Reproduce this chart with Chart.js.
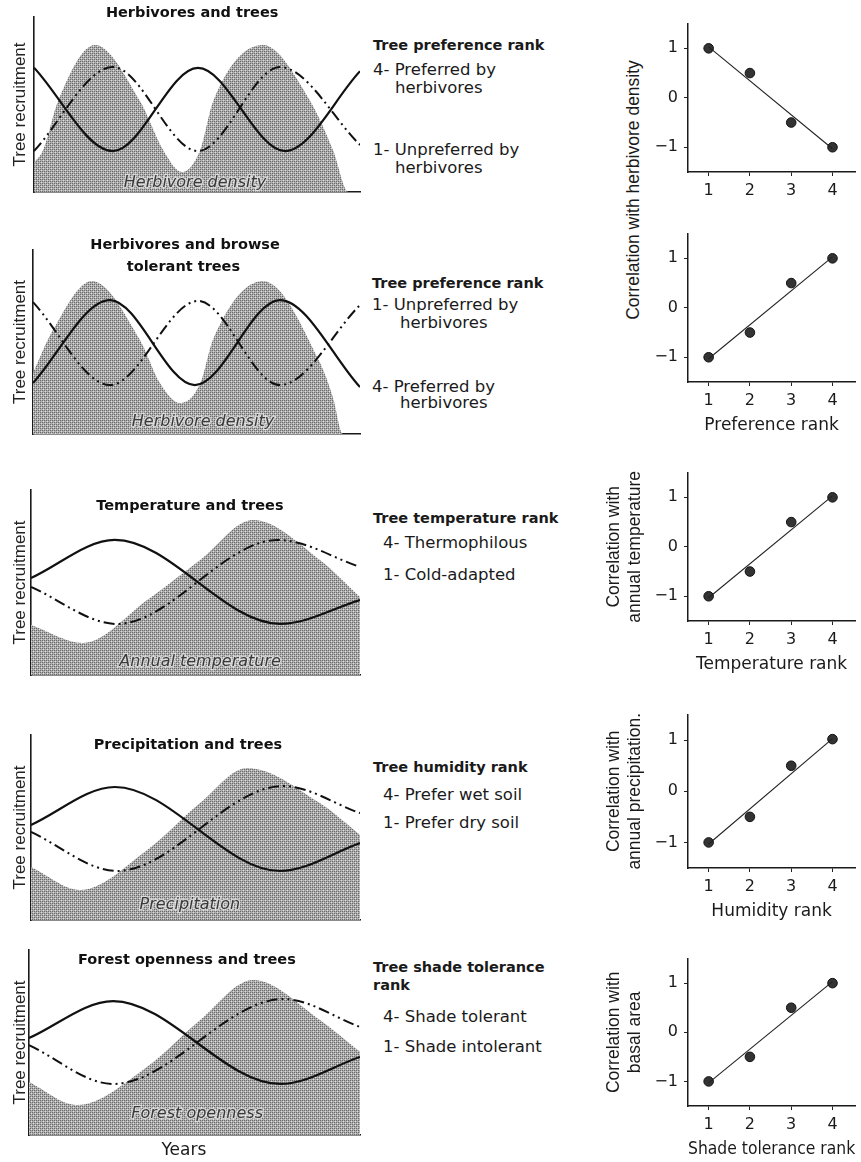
<!DOCTYPE html>
<html>
<head>
<meta charset="utf-8">
<script src="https://cdn.jsdelivr.net/npm/chart.js@4.4.1/dist/chart.umd.min.js"></script>
<style>
    body { margin: 0; background: #fff; }
    #fig { position: relative; width: 861px; height: 1162px; overflow: hidden; font-family: 'DejaVu Sans', sans-serif; color: #1a1a1a; }
    #fig canvas { position: absolute; }
    .t { position: absolute; white-space: nowrap; font-size: 16.5px; line-height: 20px; }
    .h { font-weight: bold; font-size: 14.5px; }
    .v { position: absolute; width: 300px; line-height: 20px; text-align: center; font-family: 'Liberation Sans', Arial, sans-serif; font-size: 17.5px; transform: rotate(-90deg); }
</style>
</head>
<body>
<div id="fig">
    <div class="t h" style="left:373px;top:35px">Tree preference rank</div>
    <div class="t" style="left:373px;top:60px">4- Preferred by</div>
    <div class="t" style="left:395px;top:78px">herbivores</div>
    <div class="t" style="left:373px;top:140px">1- Unpreferred by</div>
    <div class="t" style="left:395px;top:158px">herbivores</div>

    <div class="t h" style="left:372px;top:273px">Tree preference rank</div>
    <div class="t" style="left:372px;top:295px">1- Unpreferred by</div>
    <div class="t" style="left:400px;top:313px">herbivores</div>
    <div class="t" style="left:372px;top:377px">4- Preferred by</div>
    <div class="t" style="left:400px;top:393px">herbivores</div>

    <div class="t h" style="left:373px;top:508px">Tree temperature rank</div>
    <div class="t" style="left:383px;top:533px">4- Thermophilous</div>
    <div class="t" style="left:383px;top:565px">1- Cold-adapted</div>

    <div class="t h" style="left:373px;top:757px">Tree humidity rank</div>
    <div class="t" style="left:383px;top:785px">4- Prefer wet soil</div>
    <div class="t" style="left:383px;top:813px">1- Prefer dry soil</div>

    <div class="t h" style="left:373px;top:957px">Tree shade tolerance</div>
    <div class="t h" style="left:373px;top:975px">rank</div>
    <div class="t" style="left:383px;top:1007px">4- Shade tolerant</div>
    <div class="t" style="left:383px;top:1037px">1- Shade intolerant</div>

    <div class="v" style="left:483px;top:180px">Correlation with herbivore density</div>
</div>
<script>
// ---- Left panels: time (0-100) vs relative value (0-100) ----
// Herbivores and trees
const gray1X = [0, 2.8, 7.4, 18.7, 32.5, 39.6, 45.4, 51, 55, 70.2, 84.7, 91.7, 96.5, 100];
const gray1Y = [16.6, 24, 52, 84, 52, 24, 11.4, 24, 52, 84, 52, 24, 0, 0];
const solid1X = [0, 24.2, 50.3, 77, 100];
const solid1Y = [71, 23.4, 70.9, 23.4, 69];
const dash1X = [0, 24.2, 50.3, 75.5, 100];
const dash1Y = [23.4, 71.4, 23.4, 71.4, 26.9];

// Herbivores and browse tolerant trees
const gray2X = [0, 6.1, 18.0, 32.7, 38.8, 45, 51.2, 55, 70.3, 87.8, 91.7, 94.8, 100];
const gray2Y = [33.2, 56.5, 83.2, 51.1, 27.7, 16.8, 27.7, 51.1, 83.2, 38.6, 20, 0, 0];
const solid2X = [0, 23.5, 49.5, 75.5, 100];
const solid2Y = [27.7, 72.8, 26.6, 72.8, 25.5];
const dash2X = [0, 23.5, 50.5, 75.5, 100];
const dash2Y = [71.7, 26.6, 72.3, 26.6, 70.1];

// Temperature and trees
const gray3X = [0, 15.8, 35.3, 51.4, 67.5, 87.8, 100];
const gray3Y = [27, 17.3, 40.5, 62.2, 83.8, 62.2, 42.2];
const solid3X = [0, 25.5, 75.7, 100];
const solid3Y = [52.4, 73.0, 27.6, 40.5];
const dash3X = [0, 26.1, 75.1, 100];
const dash3Y = [47.6, 27.6, 73.0, 58.4];

// Precipitation and trees
const gray4X = [0, 14.9, 35.3, 51.4, 65.7, 87.8, 100];
const gray4Y = [28.6, 16.2, 37.8, 63.2, 82.2, 63.2, 46];
const solid4X = [0, 25.5, 75.7, 100];
const solid4Y = [51.4, 71.9, 26.5, 41.6];
const dash4X = [0, 26.1, 76.6, 100];
const dash4Y = [47.6, 26.5, 72.4, 57.8];

// Forest openness and trees
const gray5X = [0, 14.5, 35.6, 51.7, 67.7, 87.9, 100];
const gray5Y = [28.6, 16.2, 36.8, 62.2, 83.8, 62.2, 45];
const solid5X = [0, 25.4, 75.9, 100];
const solid5Y = [52.4, 72.4, 27.6, 42.2];
const dash5X = [0, 25.4, 76.9, 100];
const dash5Y = [48.6, 27.6, 73.5, 58.4];

// ---- Right panels: correlation by rank ----
const ranks = [1, 2, 3, 4];
const corrHerbivore = [1, 0.5, -0.5, -1];
const corrPreference = [-1, -0.5, 0.5, 1];
const corrTemperature = [-1, -0.5, 0.5, 1];
const corrHumidity = [-1, -0.5, 0.5, 1.02];
const corrShade = [-1, -0.5, 0.5, 1];
const fitX = [1, 4];
const fitHerbivore = [1.03, -1.03];
const fitPositive = [-1.03, 1.03];

const fig = document.getElementById('fig');
const FONT_H = 'DejaVu Sans';
const FONT_V = 'Liberation Sans';

function pts(xs, ys) {
    return xs.map((x, i) => ({ x: x, y: ys[i] }));
}

// halftone tile used for the shaded driver area
const tile = document.createElement('canvas');
tile.width = 4; tile.height = 4;
(function () {
    const g = tile.getContext('2d');
    g.fillStyle = '#aeaeae'; g.fillRect(0, 0, 4, 4);
    g.fillStyle = '#6a6a6a';
    g.fillRect(0, 0, 1, 1); g.fillRect(2, 0, 1, 1); g.fillRect(0, 2, 1, 1); g.fillRect(2, 2, 1, 1);
    g.fillStyle = '#dedede';
    g.fillRect(1, 3, 1, 1); g.fillRect(3, 1, 1, 1);
})();

function addCanvas(left, top, w, h) {
    const c = document.createElement('canvas');
    c.width = w; c.height = h;
    c.style.left = left + 'px'; c.style.top = top + 'px';
    c.style.width = w + 'px'; c.style.height = h + 'px';
    fig.appendChild(c);
    return c.getContext('2d');
}

// text drawn at value positions inside a panel
const panelText = {
    id: 'panelText',
    afterDatasetsDraw(chart, args, opts) {
        const ctx = chart.ctx;
        const sx = chart.scales.x, sy = chart.scales.y;
        (opts.items || []).forEach(function (it) {
            ctx.save();
            ctx.font = it.font;
            ctx.textAlign = 'center';
            ctx.textBaseline = 'middle';
            const px = sx.getPixelForValue(it.x), py = sy.getPixelForValue(it.y);
            if (it.halo) {
                ctx.strokeStyle = 'rgba(235,235,235,0.7)';
                ctx.lineWidth = 2.5;
                ctx.strokeText(it.text, px, py);
            }
            ctx.fillStyle = it.color || '#111';
            ctx.fillText(it.text, px, py);
            ctx.restore();
        });
    }
};

function renderDriverPanel(box, grayX, grayY, solidX, solidY, dashX, dashY, items) {
    const padTop = 22, padLeft = 6, right = 360, canvasW = 372;
    const bottomH = box.bottomH || 4;
    const h = padTop + (box.bottom - box.top) + bottomH;
    const ctx = addCanvas(0, box.top - padTop, canvasW, h);
    new Chart(ctx, {
        type: 'line',
        data: {
            datasets: [
                {
                    data: pts(solidX, solidY),
                    borderColor: '#111', borderWidth: 2.2,
                    pointRadius: 0, fill: false,
                    cubicInterpolationMode: 'monotone', order: 1
                },
                {
                    data: pts(dashX, dashY),
                    borderColor: '#111', borderWidth: 2,
                    borderDash: [11, 4, 2, 4, 2, 4],
                    pointRadius: 0, fill: false,
                    cubicInterpolationMode: 'monotone', order: 2
                },
                {
                    data: pts(grayX, grayY),
                    borderWidth: 0, pointRadius: 0,
                    backgroundColor: function (c) { return c.chart.ctx.createPattern(tile, 'repeat'); },
                    fill: 'origin',
                    cubicInterpolationMode: 'monotone', order: 3
                }
            ]
        },
        options: {
            responsive: false,
            animation: false,
            layout: { padding: { top: padTop, left: padLeft, right: canvasW - right, bottom: 0 } },
            plugins: {
                legend: { display: false },
                tooltip: { enabled: false },
                panelText: { items: items }
            },
            scales: {
                x: {
                    type: 'linear', min: 0, max: 100,
                    grid: { display: false },
                    ticks: { display: false },
                    border: { display: true, color: '#1a1a1a', width: 1.6 },
                    afterFit: function (s) { s.height = bottomH; }
                },
                y: {
                    min: 0, max: 100,
                    grid: { display: false },
                    ticks: { display: false },
                    border: { display: true, color: '#1a1a1a', width: 1.6 },
                    title: {
                        display: true, text: 'Tree recruitment', color: '#222',
                        font: { family: FONT_V, size: 17 }, padding: { top: 4, bottom: 4 }
                    },
                    afterFit: function (s) { s.width = box.left - padLeft; }
                }
            }
        },
        plugins: [panelText]
    });
}

function renderCorrelationPanel(box, values, fit, xTitle, yTitle) {
    const left = 600, padTop = 8, areaLeft = 688, areaRight = 856, canvasW = 261;
    const bottomH = xTitle ? 58 : 32;
    const h = padTop + (box.bottom - box.top) + bottomH;
    const ctx = addCanvas(left, box.top - padTop, canvasW, h);
    const tickFont = { family: FONT_H, size: 16 };
    new Chart(ctx, {
        data: {
            datasets: [
                {
                    type: 'line',
                    data: pts(fitX, fit),
                    borderColor: '#222', borderWidth: 1.1,
                    pointRadius: 0, fill: false
                },
                {
                    type: 'scatter',
                    data: pts(ranks, values),
                    pointRadius: 4.8, pointStyle: 'circle',
                    backgroundColor: '#333', borderColor: '#111', borderWidth: 1
                }
            ]
        },
        options: {
            responsive: false,
            animation: false,
            layout: { padding: { top: padTop, left: 0, right: left + canvasW - areaRight, bottom: 0 } },
            plugins: { legend: { display: false }, tooltip: { enabled: false } },
            scales: {
                x: {
                    type: 'linear', min: 0.5, max: 4.55,
                    afterBuildTicks: function (s) { s.ticks = ranks.map(function (v) { return { value: v }; }); },
                    grid: { drawOnChartArea: false, drawTicks: true, tickLength: 4, color: '#222' },
                    border: { display: true, color: '#1a1a1a', width: 1.5 },
                    ticks: { font: tickFont, color: '#1a1a1a', padding: 5, maxRotation: 0 },
                    title: {
                        display: !!xTitle, text: xTitle || '', color: '#1a1a1a',
                        font: { family: FONT_H, size: 17 }, padding: { top: 4, bottom: 4 }
                    },
                    afterFit: function (s) { s.height = bottomH; }
                },
                y: {
                    type: 'linear', min: -1.5, max: 1.5,
                    afterBuildTicks: function (s) { s.ticks = [-1, 0, 1].map(function (v) { return { value: v }; }); },
                    grid: { drawOnChartArea: false, drawTicks: true, tickLength: 4, color: '#222' },
                    border: { display: true, color: '#1a1a1a', width: 1.5 },
                    ticks: {
                        font: tickFont, color: '#1a1a1a', padding: 6,
                        callback: function (v) { return v < 0 ? '\u2212' + Math.abs(v) : String(v); }
                    },
                    title: {
                        display: !!yTitle, text: yTitle || '', color: '#1a1a1a',
                        font: { family: FONT_V, size: 17.5 }, padding: { top: 4, bottom: 4 }
                    },
                    afterFit: function (s) { s.width = areaLeft - left; }
                }
            }
        }
    });
}

const titleFont = 'bold 14.5px "' + FONT_H + '"';
const labelFont = 'italic 16px "' + FONT_H + '"';

renderDriverPanel({ left: 34, top: 17, bottom: 192 }, gray1X, gray1Y, solid1X, solid1Y, dash1X, dash1Y, [
    { text: 'Herbivores and trees', x: 48.5, y: 102, font: titleFont },
    { text: 'Herbivore density', x: 49.4, y: 5, font: labelFont, color: '#3a3a3a', halo: true }
]);
renderDriverPanel({ left: 33, top: 250, bottom: 434 }, gray2X, gray2Y, solid2X, solid2Y, dash2X, dash2Y, [
    { text: 'Herbivores and browse', x: 46.5, y: 102.7, font: titleFont },
    { text: 'tolerant trees', x: 46, y: 90.8, font: titleFont },
    { text: 'Herbivore density', x: 52, y: 6.5, font: labelFont, color: '#3a3a3a', halo: true }
]);
renderDriverPanel({ left: 31, top: 490, bottom: 675 }, gray3X, gray3Y, solid3X, solid3Y, dash3X, dash3Y, [
    { text: 'Temperature and trees', x: 48.3, y: 91.4, font: titleFont },
    { text: 'Annual temperature', x: 51.4, y: 7, font: labelFont, color: '#3a3a3a', halo: true }
]);
renderDriverPanel({ left: 31, top: 735, bottom: 920 }, gray4X, gray4Y, solid4X, solid4Y, dash4X, dash4Y, [
    { text: 'Precipitation and trees', x: 47.7, y: 94.6, font: titleFont },
    { text: 'Precipitation', x: 48.3, y: 8, font: labelFont, color: '#3a3a3a', halo: true }
]);
renderDriverPanel({ left: 29, top: 950, bottom: 1135, bottomH: 28 }, gray5X, gray5Y, solid5X, solid5Y, dash5X, dash5Y, [
    { text: 'Forest openness and trees', x: 47.7, y: 94.6, font: titleFont },
    { text: 'Forest openness', x: 50.8, y: 11.4, font: labelFont, color: '#3a3a3a', halo: true },
    { text: 'Years', x: 46.8, y: -8.3, font: '17px "' + FONT_H + '"', color: '#1a1a1a' }
]);

renderCorrelationPanel({ top: 16, bottom: 172 }, corrHerbivore, fitHerbivore, null, null);
renderCorrelationPanel({ top: 226, bottom: 382 }, corrPreference, fitPositive, 'Preference rank', null);
renderCorrelationPanel({ top: 465, bottom: 621 }, corrTemperature, fitPositive, 'Temperature rank', ['Correlation with', 'annual temperature']);
renderCorrelationPanel({ top: 707, bottom: 868 }, corrHumidity, fitPositive, 'Humidity rank', ['Correlation with', 'annual precipitation.']);
renderCorrelationPanel({ top: 951, bottom: 1106 }, corrShade, fitPositive, 'Shade tolerance rank', ['Correlation with', 'basal area']);
</script>
</body>
</html>
